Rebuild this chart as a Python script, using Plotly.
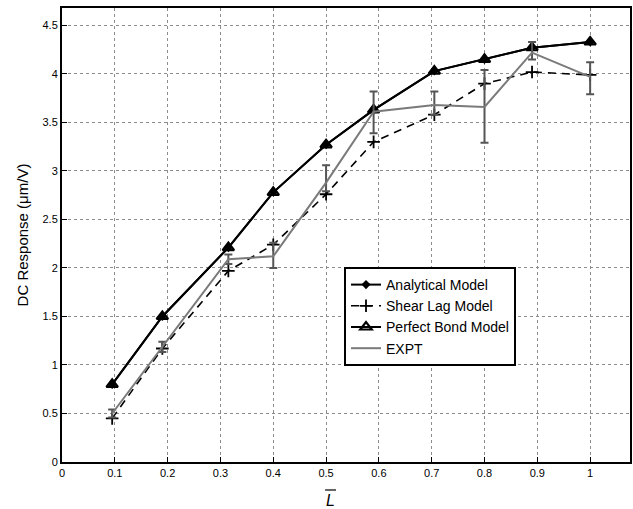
import plotly.graph_objects as go

# ---- data ----
x_pos = [0.095, 0.19, 0.315, 0.40, 0.50, 0.59, 0.705, 0.80, 0.89, 1.00]
analytical = [0.80, 1.50, 2.21, 2.78, 3.27, 3.63, 4.03, 4.15, 4.27, 4.33]
perfect_bond = [0.80, 1.50, 2.21, 2.78, 3.27, 3.63, 4.03, 4.15, 4.27, 4.33]
shear_lag = [0.45, 1.17, 1.97, 2.24, 2.76, 3.30, 3.58, 3.90, 4.02, 3.99]
expt = [0.50, 1.19, 2.09, 2.12, 2.88, 3.61, 3.68, 3.66, 4.22, 3.97]
expt_err_plus = [0.04, 0.05, 0.05, 0.14, 0.18, 0.21, 0.14, 0.38, 0.11, 0.15]
expt_err_minus = [0.04, 0.055, 0.05, 0.12, 0.09, 0.22, 0.10, 0.37, 0.07, 0.18]

x_ticks = [0, 0.1, 0.2, 0.3, 0.4, 0.5, 0.6, 0.7, 0.8, 0.9, 1.0]
x_tick_text = ["0", "0.1", "0.2", "0.3", "0.4", "0.5", "0.6", "0.7", "0.8", "0.9", "1"]
y_ticks = [0, 0.5, 1, 1.5, 2, 2.5, 3, 3.5, 4, 4.5]
y_tick_text = ["0", "0.5", "1", "1.5", "2", "2.5", "3", "3.5", "4", "4.5"]

W, H = 633, 509
ML, MR, MT, MB = 62, 1, 8, 47
FONT = "Liberation Sans, Arial, sans-serif"

fig = go.Figure()

fig.add_trace(go.Scatter(
    x=x_pos, y=analytical, name="Analytical Model", mode="lines+markers",
    line=dict(color="black", width=2),
    marker=dict(symbol="diamond", size=7, color="black"),
))
fig.add_trace(go.Scatter(
    x=x_pos, y=shear_lag, name="Shear Lag Model", mode="lines+markers",
    line=dict(color="black", width=1.6, dash="8px,6px"),
    marker=dict(symbol="cross-thin", size=9, line=dict(color="black", width=1.8)),
))
fig.add_trace(go.Scatter(
    x=x_pos, y=perfect_bond, name="Perfect Bond Model", mode="lines+markers",
    line=dict(color="black", width=2),
    marker=dict(symbol="triangle-up-open", size=10, color="black", line=dict(width=2.2)),
))
fig.add_trace(go.Scatter(
    x=x_pos, y=expt, name="EXPT", mode="lines",
    line=dict(color="#7a7a7a", width=2),
    error_y=dict(type="data", symmetric=False, array=expt_err_plus,
                 arrayminus=expt_err_minus, color="#555555", thickness=2, width=4),
))

axis_common = dict(
    showline=True, linecolor="black", linewidth=2, mirror=True,
    ticks="inside", ticklen=5, tickcolor="black", tickwidth=1,
    showgrid=True, gridcolor="#8c8c8c", gridwidth=1, griddash="dot",
    zeroline=False, tickfont=dict(family=FONT, size=11, color="black"),
)

plot_w = W - ML - MR
x_max = (plot_w) / 530.0
fig.update_xaxes(range=[0, x_max], tickvals=x_ticks, ticktext=x_tick_text, **axis_common)
fig.update_yaxes(range=[0, 4.68], tickvals=y_ticks, ticktext=y_tick_text,
                 title=dict(text="DC Response (μm/V)", font=dict(family=FONT, size=15, color="black"),
                            standoff=10),
                 **axis_common)

plot_h = H - MT - MB
def px_to_paper_x(px):
    return (px - ML) / plot_w
def px_to_paper_y(py):
    return (H - MB - py) / plot_h

# x-axis title: italic L with overbar
fig.add_annotation(text="<i>L</i>", xref="paper", yref="paper",
                   x=px_to_paper_x(331), y=px_to_paper_y(500), xanchor="center", yanchor="middle",
                   showarrow=False, font=dict(family=FONT, size=16, color="black"))
fig.add_shape(type="line", xref="paper", yref="paper",
              x0=px_to_paper_x(326), x1=px_to_paper_x(337),
              y0=px_to_paper_y(490), y1=px_to_paper_y(490),
              line=dict(color="black", width=1.2))

fig.update_layout(
    width=W, height=H,
    margin=dict(l=ML, r=MR, t=MT, b=MB),
    paper_bgcolor="white", plot_bgcolor="white",
    font=dict(family=FONT, color="black"),
    showlegend=True,
    legend=dict(x=px_to_paper_x(345), y=px_to_paper_y(267), xanchor="left", yanchor="top",
                bgcolor="white", bordercolor="black", borderwidth=2,
                font=dict(family=FONT, size=14, color="black"),
                tracegroupgap=0, itemwidth=30),
)

fig.write_html("out.html")
